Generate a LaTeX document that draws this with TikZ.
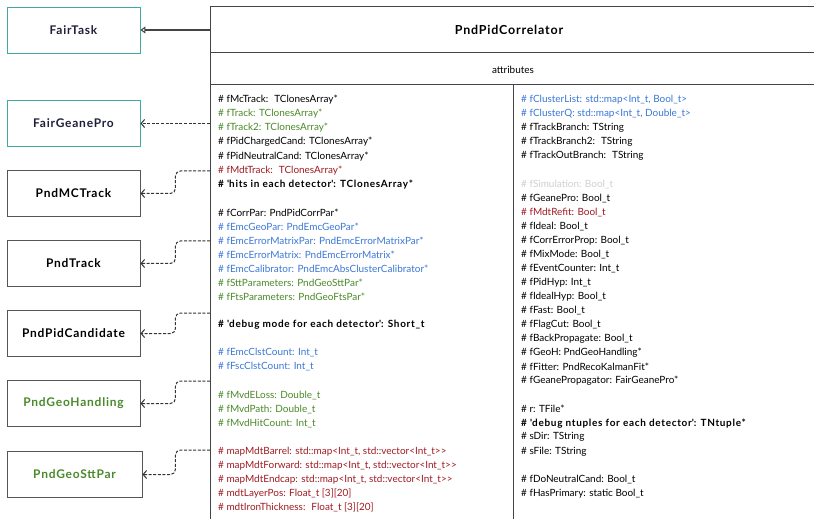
\documentclass[tikz,border=0pt]{standalone}
\usepackage{fontspec}
\setmainfont{Lato}
\usetikzlibrary{arrows.meta,calc}
\definecolor{tealb}{HTML}{3FA9A3}
\definecolor{boxg}{HTML}{555555}
\definecolor{lineg}{HTML}{444444}
\definecolor{navyt}{HTML}{1E1E3A}
\definecolor{grn}{HTML}{4A8A2A}
\definecolor{blu}{HTML}{3B78D8}
\definecolor{dred}{HTML}{A01C24}
\definecolor{lgray}{HTML}{D0D0D0}
\definecolor{conn}{HTML}{333333}
\newcommand\wbold{\bfseries\addfontfeature{LetterSpace=6.5}}
\newcommand\attrL[4]{\node[attr,text=#2] (#1) at (218,{100+14.05*#3}) {#4};}
\newcommand\attrR[4]{\node[attr,text=#2] (#1) at (521,{100+14.05*#3}) {#4};}
\begin{document}
\begin{tikzpicture}[x=1bp,y=-1bp,
  cls/.style={draw=boxg,line width=0.9bp,minimum width=133bp,minimum height=46bp,
    inner sep=0pt,font=\fontsize{12}{14}\selectfont\wbold,text=black},
  tealcls/.style={cls,draw=tealb,text=navyt},
  attr/.style={anchor=west,inner sep=0pt,font=\fontsize{10}{12}\selectfont},
  frame/.style={draw=lineg,line width=1bp},
  dep/.style={draw=conn,line width=1bp,dash pattern=on 3bp off 1.6bp,
    -{Straight Barb[length=3.5bp,width=8bp]},rounded corners=5bp},
  inh/.style={draw=lineg,line width=1.4bp,-{Triangle[open,length=5bp,width=7bp,line width=1bp]}}]
\useasboundingbox (0,0) rectangle (814,519);
\fill[white] (0,0) rectangle (814,519);
% main class frame
\coordinate (tl) at (210,7);
\coordinate (tr) at (814,7);
\coordinate (bl) at (210,519);
\draw[frame] (tr) -- (tl) -- (bl);
\draw[frame] (210,53) -- (814,53);
\draw[frame] (210,85) -- (814,85);
\draw[frame] (513,85) -- (513,519);
\node[font=\fontsize{12.5}{15}\selectfont\wbold] (title) at (509,30) {PndPidCorrelator};
\node[font=\fontsize{10}{12}\selectfont] (attrs) at (513,70) {attributes};
% left classes
\node[tealcls] (fairtask) at (73.5,30) {FairTask};
\node[tealcls] (geanepro) at (73.5,123.5) {FairGeanePro};
\node[cls] (mctrack) at (73.5,193.5) {PndMCTrack};
\node[cls] (track) at (73.5,263.5) {PndTrack};
\node[cls] (pidcand) at (73.5,333.5) {PndPidCandidate};
\node[cls,text=grn] (geohand) at (73.5,403.5) {PndGeoHandling};
\node[cls,text=grn,minimum width=135bp] (geostt) at (74.5,474.5) {PndGeoSttPar};
% connectors
\coordinate (s0) at (210,30);
\coordinate (s1) at (210,123.5);
\coordinate (s2) at (210,171);
\coordinate (s3) at (210,241);
\coordinate (s4) at (210,313);
\coordinate (s5) at (210,381);
\coordinate (s6) at (210,450);
\draw[inh] (s0) -- (fairtask.east);
\draw[dep] (s1) -- (geanepro.east);
\draw[dep] (s2) -| ($(mctrack.east)+(35,0)$) -- (mctrack.east);
\draw[dep] (s3) -| ($(track.east)+(35,0)$) -- (track.east);
\draw[dep] (s4) -| ($(pidcand.east)+(35,0)$) -- (pidcand.east);
\draw[dep] (s5) -| ($(geohand.east)+(35,0)$) -- (geohand.east);
\draw[dep] (s6) -| ($(geostt.east)+(33,0)$) -- (geostt.east);
% left column attributes
\attrL{l0}{black}{0}{\# fMcTrack:~ TClonesArray*}
\attrL{l1}{grn}{1}{\# fTrack: TClonesArray*}
\attrL{l2}{grn}{2}{\# fTrack2: TClonesArray*}
\attrL{l3}{black}{3}{\# fPidChargedCand: TClonesArray*}
\attrL{l4}{black}{4}{\# fPidNeutralCand: TClonesArray*}
\attrL{l5}{dred}{5}{\# fMdtTrack:~ TClonesArray*}
\attrL{l6}{black}{6}{\bfseries\addfontfeature{LetterSpace=7}\# \textquotesingle hits in each detector\textquotesingle: TClonesArray*}
\attrL{l8}{black}{8}{\# fCorrPar: PndPidCorrPar*}
\attrL{l9}{blu}{9}{\# fEmcGeoPar: PndEmcGeoPar*}
\attrL{l10}{blu}{10}{\# fEmcErrorMatrixPar: PndEmcErrorMatrixPar*}
\attrL{l11}{blu}{11}{\# fEmcErrorMatrix: PndEmcErrorMatrix*}
\attrL{l12}{blu}{12}{\# fEmcCalibrator: PndEmcAbsClusterCalibrator*}
\attrL{l13}{grn}{13}{\# fSttParameters: PndGeoSttPar*}
\attrL{l14}{grn}{14}{\# fFtsParameters: PndGeoFtsPar*}
\attrL{l16}{black}{16}{\bfseries\addfontfeature{LetterSpace=7}\# \textquotesingle debug mode for each detector\textquotesingle: Short\_t}
\attrL{l18}{blu}{18}{\# fEmcClstCount: Int\_t}
\attrL{l19}{blu}{19}{\# fFscClstCount: Int\_t}
\attrL{l21}{grn}{21}{\# fMvdELoss: Double\_t}
\attrL{l22}{grn}{22}{\# fMvdPath: Double\_t}
\attrL{l23}{grn}{23}{\# fMvdHitCount: Int\_t}
\attrL{l25}{dred}{25}{\# mapMdtBarrel: std::map<Int\_t, std::vector<Int\_t>{}>}
\attrL{l26}{dred}{26}{\# mapMdtForward: std::map<Int\_t, std::vector<Int\_t>{}>}
\attrL{l27}{dred}{27}{\# mapMdtEndcap: std::map<Int\_t, std::vector<Int\_t>{}>}
\attrL{l28}{dred}{28}{\# mdtLayerPos: Float\_t [3][20]}
\attrL{l29}{dred}{29}{\# mdtIronThickness:~ Float\_t [3][20]}
% right column attributes
\attrR{r0}{blu}{0}{\# fClusterList: std::map<Int\_t, Bool\_t>}
\attrR{r1}{blu}{1}{\# fClusterQ: std::map<Int\_t, Double\_t>}
\attrR{r2}{black}{2}{\# fTrackBranch: TString}
\attrR{r3}{black}{3}{\# fTrackBranch2:~ TString}
\attrR{r4}{black}{4}{\# fTrackOutBranch:~ TString}
\attrR{r6}{lgray}{6}{\# fSimulation: Bool\_t}
\attrR{r7}{black}{7}{\# fGeanePro: Bool\_t}
\attrR{r8}{dred}{8}{\# fMdtRefit: Bool\_t}
\attrR{r9}{black}{9}{\# fIdeal: Bool\_t}
\attrR{r10}{black}{10}{\# fCorrErrorProp: Bool\_t}
\attrR{r11}{black}{11}{\# fMixMode: Bool\_t}
\attrR{r12}{black}{12}{\# fEventCounter: Int\_t}
\attrR{r13}{black}{13}{\# fPidHyp: Int\_t}
\attrR{r14}{black}{14}{\# fIdealHyp: Bool\_t}
\attrR{r15}{black}{15}{\# fFast: Bool\_t}
\attrR{r16}{black}{16}{\# fFlagCut: Bool\_t}
\attrR{r17}{black}{17}{\# fBackPropagate: Bool\_t}
\attrR{r18}{black}{18}{\# fGeoH: PndGeoHandling*}
\attrR{r19}{black}{19}{\# fFitter: PndRecoKalmanFit*}
\attrR{r20}{black}{20}{\# fGeanePropagator: FairGeanePro*}
\attrR{r22}{black}{22}{\# r: TFile*}
\attrR{r23}{black}{23}{\bfseries\addfontfeature{LetterSpace=7}\# \textquotesingle debug ntuples for each detector\textquotesingle: TNtuple*}
\attrR{r24}{black}{24}{\# sDir: TString}
\attrR{r25}{black}{25}{\# sFile: TString}
\attrR{r27}{black}{27}{\# fDoNeutralCand: Bool\_t}
\attrR{r28}{black}{28}{\# fHasPrimary: static Bool\_t}
\end{tikzpicture}
\end{document}
